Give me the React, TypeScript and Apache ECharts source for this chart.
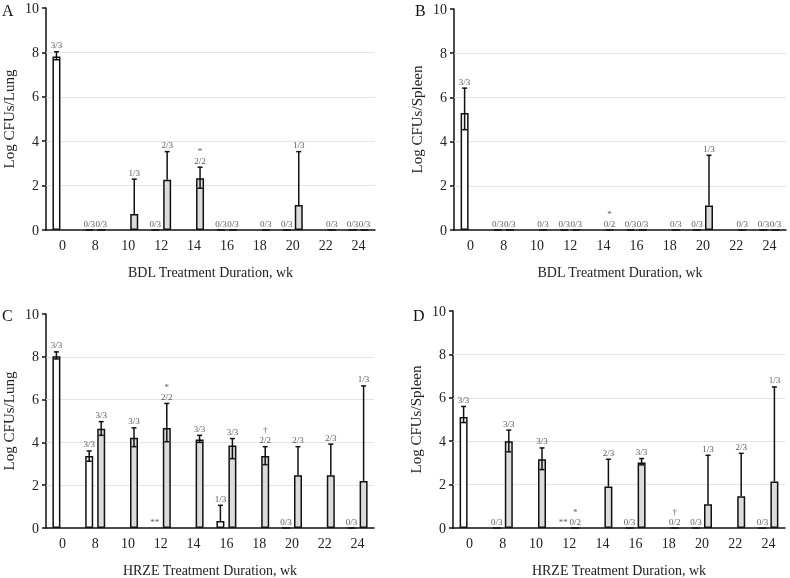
import React, { useEffect, useRef } from 'react';
import * as echarts from 'echarts';

const weeks = ['0', '8', '10', '12', '14', '16', '18', '20', '22', '24'];
const yTicks = [0, 2, 4, 6, 8, 10];

// Panel A: BDL, lung
const aLeft = [7.82, 0, null, 0, null, 0, null, 0, null, 0];
const aLeftHi = [8.03, null, null, null, null, null, null, null, null, null];
const aLeftLo = [7.67, null, null, null, null, null, null, null, null, null];
const aLeftLbl = ['3/3', '0/3', '', '0/3', '', '0/3', '', '0/3', '', '0/3'];
const aLeftMark = ['', '', '', '', '', '', '', '', '', ''];
const aRight = [null, 0, 0.72, 2.26, 2.33, 0, 0, 1.13, 0, 0];
const aRightHi = [null, null, 2.29, 3.53, 2.83, null, null, 3.53, null, null];
const aRightLo = [null, null, null, null, 1.88, null, null, null, null, null];
const aRightLbl = ['', '0/3', '1/3', '2/3', '2/2', '0/3', '0/3', '1/3', '0/3', '0/3'];
const aRightMark = ['', '', '', '', '*', '', '', '', '', ''];

// Panel B: BDL, spleen
const bLeft = [5.29, 0, null, 0, null, 0, null, 0, null, 0];
const bLeftHi = [6.42, null, null, null, null, null, null, null, null, null];
const bLeftLo = [4.54, null, null, null, null, null, null, null, null, null];
const bLeftLbl = ['3/3', '0/3', '', '0/3', '', '0/3', '', '0/3', '', '0/3'];
const bLeftMark = ['', '', '', '', '', '', '', '', '', ''];
const bRight = [null, 0, 0, 0, 0, 0, 0, 1.11, 0, 0];
const bRightHi = [null, null, null, null, null, null, null, 3.38, null, null];
const bRightLo = [null, null, null, null, null, null, null, null, null, null];
const bRightLbl = ['', '0/3', '0/3', '0/3', '0/2', '0/3', '0/3', '1/3', '0/3', '0/3'];
const bRightMark = ['', '', '', '', '*', '', '', '', '', ''];

// Panel C: HRZE, lung
const cLeft = [8.02, 3.37, null, null, null, 0.33, null, 0, null, 0];
const cLeftHi = [8.23, 3.6, null, null, null, 1.06, null, null, null, null];
const cLeftLo = [7.9, 3.12, null, null, null, null, null, null, null, null];
const cLeftLbl = ['3/3', '3/3', '', '**', '', '1/3', '', '0/3', '', '0/3'];
const cLeftMark = ['', '', '', '', '', '', '', '', '', ''];
const cRight = [null, 4.64, 4.22, 4.67, 4.13, 3.85, 3.37, 2.46, 2.46, 2.2];
const cRightHi = [null, 4.97, 4.68, 5.82, 4.33, 4.18, 3.8, 3.8, 3.92, 6.64];
const cRightLo = [null, 4.33, 3.8, 4.03, 4.0, 3.24, 2.96, null, null, null];
const cRightLbl = ['', '3/3', '3/3', '2/2', '3/3', '3/3', '2/2', '2/3', '2/3', '1/3'];
const cRightMark = ['', '', '', '*', '', '', '†', '', '', ''];

// Panel D: HRZE, spleen
const dLeft = [5.11, 0, null, null, null, 0, null, 0, null, 0];
const dLeftHi = [5.6, null, null, null, null, null, null, null, null, null];
const dLeftLo = [4.86, null, null, null, null, null, null, null, null, null];
const dLeftLbl = ['3/3', '0/3', '', '**', '', '0/3', '', '0/3', '', '0/3'];
const dLeftMark = ['', '', '', '', '', '', '', '', '', ''];
const dRight = [null, 4.0, 3.17, 0, 1.91, 3.02, 0, 1.09, 1.46, 2.14];
const dRightHi = [null, 4.51, 3.69, null, 3.17, 3.2, null, 3.35, 3.44, 6.5];
const dRightLo = [null, 3.51, 2.69, null, null, 2.91, null, null, null, null];
const dRightLbl = ['', '3/3', '3/3', '0/2', '2/3', '3/3', '0/2', '1/3', '2/3', '1/3'];
const dRightMark = ['', '', '', '*', '', '', '†', '', '', ''];

const panelData = [
  { letter: 'A', yName: 'Log CFUs/Lung', xName: 'BDL Treatment Duration, wk',
    left: [aLeft, aLeftHi, aLeftLo, aLeftLbl, aLeftMark], right: [aRight, aRightHi, aRightLo, aRightLbl, aRightMark] },
  { letter: 'B', yName: 'Log CFUs/Spleen', xName: 'BDL Treatment Duration, wk',
    left: [bLeft, bLeftHi, bLeftLo, bLeftLbl, bLeftMark], right: [bRight, bRightHi, bRightLo, bRightLbl, bRightMark] },
  { letter: 'C', yName: 'Log CFUs/Lung', xName: 'HRZE Treatment Duration, wk',
    left: [cLeft, cLeftHi, cLeftLo, cLeftLbl, cLeftMark], right: [cRight, cRightHi, cRightLo, cRightLbl, cRightMark] },
  { letter: 'D', yName: 'Log CFUs/Spleen', xName: 'HRZE Treatment Duration, wk',
    left: [dLeft, dLeftHi, dLeftLo, dLeftLbl, dLeftMark], right: [dRight, dRightHi, dRightLo, dRightLbl, dRightMark] },
];

const layouts = [
  { left: 41, top: 8, width: 334, height: 222, lx: 2, ly: 2 },
  { left: 454, top: 9, width: 332, height: 221, lx: 415, ly: 2 },
  { left: 42, top: 314, width: 332, height: 219, lx: 2, ly: 307 },
  { left: 453, top: 311, width: 332, height: 222, lx: 413, ly: 307 },
];

const FONT = "'Liberation Serif', 'DejaVu Serif', serif";
const BAR_W = 8;
const OFFSET = 6;

function annot(k: number, arrs: any[], side: number) {
  const [vals, his, los, lbls, marks] = arrs;
  return {
    type: 'custom',
    xAxisIndex: k,
    yAxisIndex: k,
    z: 10,
    silent: true,
    clip: false,
    itemStyle: { color: '#666' },
    data: weeks.map((_, i) => [i, 0]),
    encode: { x: 0, y: 1 },
    renderItem: (params: any, api: any) => {
      const i = params.dataIndex;
      const base = api.coord([i, 0]);
      const x = base[0] + side * OFFSET;
      const y0 = base[1];
      const children: any[] = [];
      const v = vals[i];
      const hi = his[i];
      const lo = los[i];
      let topY = y0;
      if (v != null) topY = api.coord([i, v])[1];
      const ls = { stroke: '#111', lineWidth: 1.5 };
      if (hi != null) {
        const yh = api.coord([i, hi])[1];
        const yl = lo != null ? api.coord([i, lo])[1] : (v != null ? api.coord([i, v])[1] : y0);
        children.push({ type: 'line', shape: { x1: x, y1: yl, x2: x, y2: yh }, style: ls });
        children.push({ type: 'line', shape: { x1: x - 2.5, y1: yh, x2: x + 2.5, y2: yh }, style: ls });
        if (lo != null) {
          children.push({ type: 'line', shape: { x1: x - 2.5, y1: yl, x2: x + 2.5, y2: yl }, style: ls });
        }
        topY = yh;
      }
      if (lbls[i]) {
        children.push({
          type: 'text', x, y: topY - 2,
          style: { text: lbls[i], fill: '#5a5a5a', font: `9px ${FONT}`, align: 'center', verticalAlign: 'bottom' },
        });
      }
      if (marks[i]) {
        children.push({
          type: 'text', x, y: topY - 12,
          style: { text: marks[i], fill: '#5a5a5a', font: `9px ${FONT}`, align: 'center', verticalAlign: 'bottom' },
        });
      }
      return { type: 'group', children };
    },
  };
}

export default function App() {
  const ref = useRef<HTMLDivElement>(null);
  useEffect(() => {
    document.body.style.margin = '0';
    const chart = echarts.init(ref.current!, null, { renderer: 'svg' });
    const grid: any[] = [];
    const xAxis: any[] = [];
    const yAxis: any[] = [];
    const series: any[] = [];
    const graphic: any[] = [];
    panelData.forEach((p, k) => {
      const L = layouts[k];
      grid.push({ left: L.left, top: L.top, width: L.width, height: L.height });
      xAxis.push({
        type: 'category', gridIndex: k, data: weeks,
        axisLine: { lineStyle: { color: '#111', width: 1.5 } },
        axisTick: { alignWithLabel: true, length: 4, lineStyle: { color: '#111', width: 1.5 } },
        axisLabel: { fontFamily: FONT, fontSize: 14, color: '#222', margin: 8 },
        name: p.xName, nameLocation: 'middle', nameGap: 35,
        nameTextStyle: { fontFamily: FONT, fontSize: 14, color: '#222' },
      });
      yAxis.push({
        type: 'value', gridIndex: k, min: 0, max: 10, interval: 2,
        axisLine: { show: true, lineStyle: { color: '#111', width: 1.5 } },
        axisTick: { show: true, length: 4, lineStyle: { color: '#111', width: 1.5 } },
        axisLabel: { fontFamily: FONT, fontSize: 14, color: '#222', margin: 7 },
        splitLine: { show: false },
        name: p.yName, nameLocation: 'middle', nameGap: 30,
        nameTextStyle: { fontFamily: FONT, fontSize: 15, color: '#222' },
      });
      series.push({
        type: 'bar', xAxisIndex: k, yAxisIndex: k, data: p.left[0],
        barWidth: BAR_W, barGap: '50%', z: 3,
        itemStyle: { color: '#ffffff', borderColor: '#111', borderWidth: 1.5 },
        markLine: {
          silent: true, symbol: 'none', label: { show: false },
          lineStyle: { color: '#e4e4e4', type: 'solid', width: 1 },
          data: yTicks.filter((t) => t > 0 && t < 10).map((t) => ({ yAxis: t })),
          z: 1,
        },
      });
      series.push({
        type: 'bar', xAxisIndex: k, yAxisIndex: k, data: p.right[0],
        barWidth: BAR_W, barGap: '50%', z: 3,
        itemStyle: { color: '#dcdcdc', borderColor: '#111', borderWidth: 1.5 },
      });
      series.push(annot(k, p.left, -1));
      series.push(annot(k, p.right, 1));
      graphic.push({
        type: 'text', left: L.lx, top: L.ly,
        style: { text: p.letter, font: `16px ${FONT}`, fill: '#111' },
      });
    });
    chart.setOption({
      animation: false,
      backgroundColor: '#ffffff',
      grid, xAxis, yAxis, series, graphic,
    });
    return () => chart.dispose();
  }, []);
  return <div ref={ref} style={{ width: 790, height: 578, willChange: 'transform' }} />;
}
